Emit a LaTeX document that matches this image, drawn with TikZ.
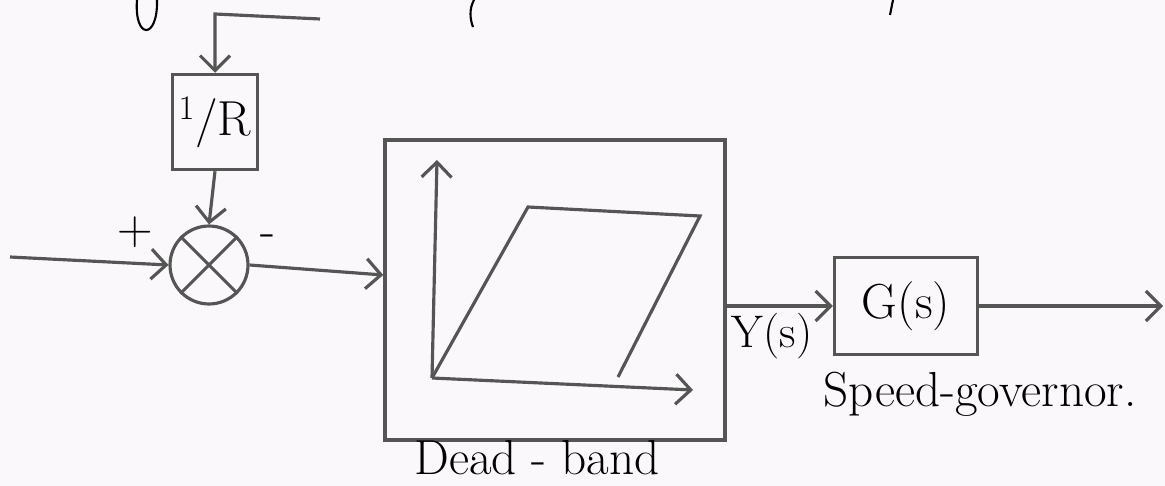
\documentclass[tikz,border=0pt]{standalone}
\usetikzlibrary{positioning,arrows.meta}
\definecolor{pencil}{RGB}{85,85,85}
\definecolor{paper}{RGB}{251,248,251}

\begin{document}
\begin{tikzpicture}[
        x=0.02cm, y=-0.02cm,
        every node/.style={font=\fontsize{28}{33}\selectfont},
        block/.style={draw=pencil, line width=2pt, minimum width=2.86cm, minimum height=1.94cm, inner sep=0pt},
        sumnode/.style={draw=pencil, circle, line width=1.8pt, minimum size=1.56cm, inner sep=0pt},
        arrow/.style={-{Straight Barb[length=3mm, width=6mm]}, line width=1.8pt, pencil},
        curve/.style={line width=1.8pt, pencil},
        ink/.style={line width=1.2pt, black}
    ]
        % Page with its margins
        \fill[paper] (0,0) rectangle (1165,486);
        \useasboundingbox (0,0) rectangle (1165,486);

        % Bits of the line above, cut off at the top edge
        \draw[ink] (137,0) .. controls (134,40) and (158,40) .. (157,0);
        \draw[ink] (474,0) .. controls (469,9) and (470,19) .. (473,27);
        \draw[ink] (893,0) -- (890,15);

        % Blocks
        \node[block, minimum width=1.7cm, minimum height=1.9cm] (recip) at (215,122) {\textsuperscript{1}/R};
        \node[sumnode] (sum) at (209,265) {};
        \node[block, minimum width=6.8cm, minimum height=6.0cm] (dead) at (555,290) {};
        \node[block] (gov) at (906,306) {G(s)};

        % Cross inside the summing point
        \draw[curve] (sum.north west) -- (sum.south east);
        \draw[curve] (sum.south west) -- (sum.north east);

        % Signs and labels
        \node (plus) at (135,232) {+};
        \node (minus) at (268,241) {-};
        \node (dblabel) at (537,458) {Dead - band};
        \node[font=\fontsize{26}{30}\selectfont] (ylabel) at (772,336) {Y(s)};
        \node (govlabel) at (980,394) {Speed-governor.};

        % Free ends
        \coordinate (fbstart) at (320,19);
        \coordinate (fbcorner) at (215,14);
        \coordinate (inp) at (10,257);
        \coordinate (outend) at (1163,306);

        % Dead-band characteristic
        \coordinate (o) at (432,378);
        \coordinate (yaxis) at (437,160);
        \coordinate (xaxis) at (693,390);
        \coordinate (h1) at (528,207);
        \coordinate (h2) at (700,216);
        \coordinate (h3) at (618,377);
        \draw[arrow] (o) -- (yaxis);
        \draw[arrow] (o) -- (xaxis);
        \draw[curve] (o) -- (h1) -- (h2) -- (h3);

        % Connectors
        \draw[arrow] (fbstart) -- (fbcorner) -- (recip.north);
        \draw[arrow] (recip.south) -- (sum.north);
        \draw[arrow] (inp) -- (sum.west);
        \draw[arrow] (sum.east) -- ([yshift=0.3cm]dead.west);
        \draw[arrow] (dead.east |- gov.west) -- (gov.west);
        \draw[arrow] (gov.east) -- (outend);

    \end{tikzpicture}
\end{document}
